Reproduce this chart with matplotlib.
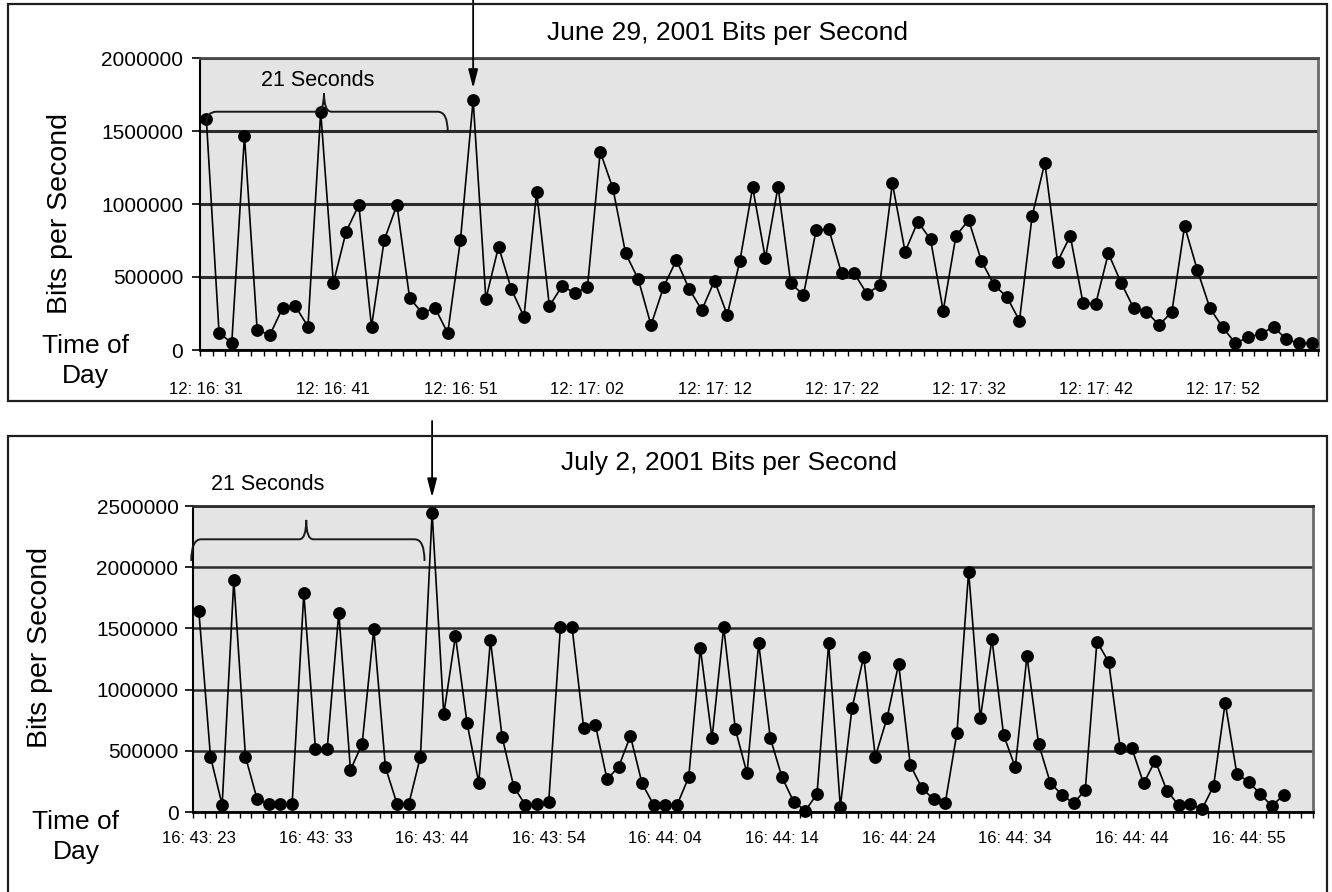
import matplotlib
matplotlib.use("Agg")
import matplotlib.pyplot as plt
from matplotlib.path import Path
from matplotlib.patches import PathPatch, Rectangle
import numpy as np

plt.rcParams["font.family"] = ["Liberation Sans", "DejaVu Sans"]

# ---- data -------------------------------------------------------------
june_labels = ["12: 16: 31", "12: 16: 41", "12: 16: 51", "12: 17: 02", "12: 17: 12",
               "12: 17: 22", "12: 17: 32", "12: 17: 42", "12: 17: 52"]
june_bps = [1580000, 118000, 48000, 1468000, 137000, 103000, 288000, 301000, 160000,
            1632000, 459000, 810000, 993000, 160000, 753000, 993000, 356000, 253000,
            288000, 116000, 753000, 1712000, 349000, 708000, 418000, 228000, 1084000,
            301000, 438000, 390000, 431000, 1358000, 1107000, 662000, 484000, 171000,
            434000, 616000, 418000, 274000, 475000, 240000, 612000, 1114000, 628000,
            1119000, 457000, 377000, 822000, 826000, 525000, 525000, 384000, 445000,
            1142000, 673000, 879000, 758000, 269000, 781000, 890000, 612000, 445000,
            365000, 201000, 918000, 1283000, 605000, 781000, 324000, 315000, 662000,
            461000, 285000, 262000, 171000, 262000, 849000, 548000, 285000, 155000,
            46000, 87000, 110000, 160000, 73000, 46000, 46000]
june_yticks = [0, 500000, 1000000, 1500000, 2000000]
june_slots = 88

july_labels = ["16: 43: 23", "16: 43: 33", "16: 43: 44", "16: 43: 54", "16: 44: 04",
               "16: 44: 14", "16: 44: 24", "16: 44: 34", "16: 44: 44", "16: 44: 55"]
july_bps = [1642000, 452000, 57000, 1895000, 452000, 104000, 65000, 65000, 65000,
            1787000, 512000, 512000, 1628000, 343000, 556000, 1492000, 365000, 65000,
            65000, 452000, 2445000, 800000, 1438000, 725000, 240000, 1405000, 615000,
            207000, 57000, 65000, 84000, 1509000, 1509000, 684000, 711000, 267000,
            370000, 621000, 234000, 57000, 57000, 57000, 284000, 1337000, 602000,
            1509000, 676000, 316000, 1378000, 602000, 284000, 84000, 11000, 147000,
            1378000, 43000, 847000, 1269000, 452000, 766000, 1209000, 384000, 194000,
            104000, 76000, 648000, 1963000, 766000, 1411000, 629000, 365000, 1274000,
            556000, 240000, 139000, 71000, 180000, 1392000, 1228000, 520000, 520000,
            234000, 419000, 174000, 57000, 65000, 22000, 212000, 893000, 310000,
            248000, 147000, 49000, 139000]
july_yticks = [0, 500000, 1000000, 1500000, 2000000, 2500000]
july_slots = 96

# ---- figure -----------------------------------------------------------
W, H = 1332, 892
fig = plt.figure(figsize=(W / 100, H / 100), dpi=100)


def fx(x):
    return x / W


def fy(y):
    return 1 - y / H


def panel_box(top, bottom, left=8, right=1327):
    fig.patches.append(Rectangle((fx(left), fy(bottom)), (right - left) / W,
                                 (bottom - top) / H, transform=fig.transFigure,
                                 fill=False, lw=1.6, ec="#1e1e1e"))


def brace(ax, x0, x1, xm, y, ypeak, yleft, yright, dx, dxm):
    verts = [(x0, yleft), (x0, y), (x0 + dx, y),
             (xm - dxm, y), (xm, y), (xm, ypeak),
             (xm, y), (xm + dxm, y),
             (x1 - dx, y), (x1, y), (x1, yright)]
    codes = [Path.MOVETO, Path.CURVE3, Path.CURVE3,
             Path.LINETO, Path.CURVE3, Path.CURVE3,
             Path.CURVE3, Path.CURVE3,
             Path.LINETO, Path.CURVE3, Path.CURVE3]
    ax.add_patch(PathPatch(Path(verts, codes), fill=False, lw=1.4,
                           ec="#1a1a1a", clip_on=False, zorder=6))


def draw_panel(ax, values, slots, yticks, labels, grid_lw, xpad, ypad,
               top_color, right_color):
    x = np.arange(len(values))
    ax.set_facecolor("#e4e4e4")
    ax.plot(x, values, color="black", lw=1.2, marker="o", ms=8.2,
            mfc="black", mec="black", clip_on=False, zorder=5)
    ax.set_xlim(-0.5, slots - 0.5)
    ax.set_ylim(yticks[0], yticks[-1])
    ax.set_yticks(yticks)
    ax.set_yticklabels([str(v) for v in yticks])
    ax.yaxis.grid(True, color="#2c2c2c", lw=grid_lw)
    ax.set_axisbelow(True)
    ax.set_xticks(np.arange(len(labels)) * 10)
    ax.set_xticklabels(labels)
    ax.set_xticks(np.arange(slots + 1) - 0.5, minor=True)
    ax.tick_params(axis="x", which="major", length=0, pad=xpad, labelsize=12)
    ax.tick_params(axis="x", which="minor", length=4.3, width=1.0, color="black")
    ax.tick_params(axis="y", which="major", length=5.5, width=1.2, pad=ypad,
                   labelsize=15)
    ax.spines["left"].set_color("black")
    ax.spines["left"].set_linewidth(1.5)
    ax.spines["bottom"].set_color("black")
    ax.spines["bottom"].set_linewidth(2.0)
    ax.spines["top"].set_color(top_color)
    ax.spines["top"].set_linewidth(2.0)
    ax.spines["right"].set_color(right_color)
    ax.spines["right"].set_linewidth(2.0)
    return x


# ---- June 29 panel ----------------------------------------------------
panel_box(4, 401)
ax1 = fig.add_axes([fx(200), fy(350), (1318 - 200) / W, (350 - 58) / H])
draw_panel(ax1, june_bps, june_slots, june_yticks, june_labels,
           grid_lw=2.2, xpad=23, ypad=6.5, top_color="#4a4a4a",
           right_color="#6a6a6a")
fig.text(fx(727), fy(33), "June 29, 2001 Bits per Second", ha="center",
         va="center", fontsize=19)
fig.text(fx(60), fy(213), "Bits per Second", rotation=90, ha="center",
         va="center", fontsize=20.5)
fig.text(fx(85), fy(361), "Time of\nDay", ha="center", va="center",
         fontsize=19, linespacing=1.3)
fig.text(fx(318), fy(80), "21 Seconds", ha="center", va="center", fontsize=15.5)
brace(ax1, 0, 19, 9.26, 1632000, 1760000, 1550000, 1495000, 0.8, 0.6)
jp = int(np.argmax(june_bps))
ax1.annotate("", xy=(jp, june_bps[jp]), xycoords="data",
             xytext=(jp, H), textcoords=("data", "figure pixels"),
             arrowprops=dict(arrowstyle="-|>,head_length=0.7,head_width=0.18",
                             mutation_scale=16, color="black", lw=1.3,
                             shrinkA=0, shrinkB=8.5), annotation_clip=False)

# ---- July 2 panel -----------------------------------------------------
panel_box(436, 910)
ax2 = fig.add_axes([fx(193), fy(812), (1312.7 - 193) / W, (812 - 506) / H])
draw_panel(ax2, july_bps, july_slots, july_yticks, july_labels,
           grid_lw=1.8, xpad=13.5, ypad=5, top_color="#2c2c2c",
           right_color="#6a6a6a")
fig.text(fx(729), fy(463), "July 2, 2001 Bits per Second", ha="center",
         va="center", fontsize=19)
fig.text(fx(40), fy(647), "Bits per Second", rotation=90, ha="center",
         va="center", fontsize=20.5)
fig.text(fx(76), fy(837), "Time of\nDay", ha="center", va="center",
         fontsize=19, linespacing=1.3)
fig.text(fx(268), fy(484), "21 Seconds", ha="center", va="center", fontsize=15.5)
brace(ax2, -0.65, 19.35, 9.21, 2228000, 2386000, 2051000, 2051000, 0.85, 0.6)
kp = int(np.argmax(july_bps))
ax2.annotate("", xy=(kp, july_bps[kp]), xycoords="data",
             xytext=(kp, H - 421), textcoords=("data", "figure pixels"),
             arrowprops=dict(arrowstyle="-|>,head_length=0.7,head_width=0.18",
                             mutation_scale=16, color="black", lw=1.3,
                             shrinkA=0, shrinkB=11), annotation_clip=False)

fig.savefig("out.png", dpi=100, facecolor="white")
